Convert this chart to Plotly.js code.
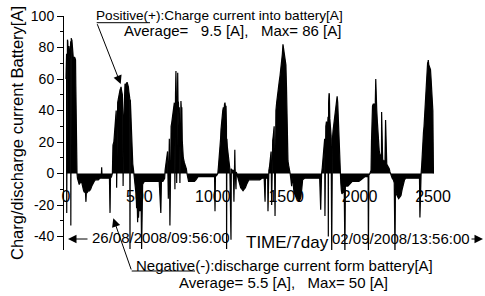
<!DOCTYPE html>
<html>
<head>
<meta charset="utf-8">
<script src="https://cdn.plot.ly/plotly-3.0.1.min.js"></script>
<style>html,body{margin:0;padding:0;background:#fff;}#chart{width:485px;height:296px;}</style>
</head>
<body>
<div id="chart"></div>
<script>
// Sample number (time axis, 7 days) and battery current [A]
const sampleIndex = [
  0,2,4,5,6,8,10,12,14,16,18,20,22,24,26,28,30,32,33,34,36,38,40,42,44,46,48,50,54,58,62,65,67,69,71,73,75,
  78,84,90,96,102,108,114,120,126,132,136,139,145,152,160,168,176,184,192,200,210,220,230,240,243,246,256,266,276,286,296,300,303,310,316,
  320,326,330,334,338,342,345,348,352,356,360,364,368,372,375,378,381,384,387,389,391,394,398,402,406,410,413,416,419,422,425,428,431,434,436,438,442,447,451,455,459,463,
  466,470,474,478,481,484,488,491,494,497,500,504,507,511,515,518,522,527,535,545,555,565,575,585,595,605,615,625,635,646,650,660,668,672,
  675,680,686,692,697,700,704,708,711,716,720,726,731,735,738,742,743,746,749,751,754,756,758,761,763,766,769,772,776,778,783,786,789,792,796,799,806,814,820,824,
  828,835,845,855,865,875,885,892,900,915,930,945,960,975,990,1005,1012,1015,1018,1028,1034,
  1038,1042,1046,1049,1053,1056,1060,1064,1068,1072,1076,1080,1083,1087,1090,1093,1094,1096,1099,1102,1106,1110,1116,1124,1126,1132,1140,1144,1146,1150,1152,1158,1160,1163,
  1167,1175,1182,1190,1198,1206,1214,1222,1230,1238,1246,1260,1275,1290,1305,1320,1335,1350,1356,1359,1368,1374,1376,1379,
  1382,1386,1390,1394,1397,1401,1404,1408,1412,1418,1424,1426,1430,1435,1440,1446,1452,1458,1463,1469,1474,1478,1481,1484,1487,1490,1494,1498,1502,1505,1508,1512,1517,1522,1527,
  1531,1537,1540,1547,1553,1560,1568,1576,1584,1592,1600,1606,1612,1625,1640,1655,1670,1685,1700,1715,1728,1735,1738,1741,
  1746,1750,1754,1758,1762,1764,1766,1770,1774,1778,1782,1785,1787,1789,1792,1794,1797,1800,1803,1806,1810,1812,1815,1819,1823,1827,1831,1835,1839,1843,1847,1851,1854,1857,1860,1863,1866,1869,
  1872,1876,1880,1885,1890,1895,1900,1903,1910,1920,1930,1940,1950,1965,1980,1995,2010,2025,2037,2050,2058,2060,2063,2070,
  2078,2081,2084,2088,2093,2098,2103,2107,2110,2113,2117,2121,2125,2129,2134,2139,2144,2149,2150,2152,2157,2162,2167,2173,2177,2180,2185,2190,2196,2202,2207,2210,
  2214,2222,2230,2236,2241,2244,2250,2258,2266,2274,2282,2290,2298,2306,2315,2330,2345,2360,2375,2390,2400,2408,2411,2414,2419,
  2423,2427,2431,2435,2439,2443,2447,2451,2455,2459,2463,2466,2468,2471,2475,2479,2483,2487,2491,2495,2499,2501,2503
];
const currentA = [
  60,72,76,-25,80,82,85,84,78,72,80,81,76,74,73,75,80,84,-33,84,86,84,85,82,80,76,74,73,73,74,73,72,55,20,8,3,0,
  -3,-6,-7,-6,-5,-6,-9,-11,-12,-11,-18,-11,-12,-11,-11,-10,-8,-6,-5,-4,-4,-4,-3,-3,4,-3,-3,-3,-3,-3,-3,-25,-3,-2,0,
  18,20,25,30,36,40,-9,43,45,47,50,52,53,54,55,53,51,50,35,-8,15,35,54,57,56,57,58,58,57,56,55,52,50,48,-48,47,38,25,12,6,3,0,
  -4,-8,-12,-14,-22,-14,-31,-15,-28,-16,-15,-24,-14,-12,-48,-10,-7,-6,-5,-5,-5,-5,-5,-5,-5,-5,-5,-5,-5,-25,-5,-5,-4,-3,
  2,5,10,14,-16,18,22,-33,26,30,32,36,40,43,45,-10,49,50,65,52,-6,45,52,64,46,45,30,42,-6,44,46,40,42,21,12,10,7,5,3,0,
  -3,-5,-5,-5,-5,-5,-4,-3,-2,-2,-2,-2,-2,-2,-2,-2,-2,-24,-2,-1,0,
  4,8,12,16,22,28,34,38,40,42,39,44,45,41,43,30,-48,22,17,14,8,5,3,-42,3,2,2,-18,2,15,3,-10,1,0,
  -2,-4,-6,-9,-10,-11,-10,-9,-7,-5,-4,-4,-4,-4,-4,-4,-3,-3,-18,-3,-3,-3,-24,-2,
  2,4,8,11,14,-20,19,21,24,30,-27,34,40,45,50,53,58,62,66,70,76,82,80,81,78,76,72,69,55,30,15,8,5,3,0,
  -3,-8,-3,-6,-12,-14,-15,-16,-17,-17,-15,-10,-4,-3,-3,-3,-3,-3,-3,-3,-3,-23,-2,0,
  4,10,14,20,22,-27,25,30,33,32,30,36,-40,45,51,50,35,30,32,24,-50,14,22,27,30,33,36,40,42,44,49,45,36,28,20,12,4,0,
  -6,-11,-13,-12,-10,-8,-50,-8,-8,-8,-7,-6,-5,-5,-5,-5,-4,-3,-2,-2,-2,-50,-1,0,
  2,20,42,43,44,44,43,45,60,42,40,33,25,18,14,12,11,10,39,10,9,8,8,8,34,7,6,5,4,3,1,0,
  -2,-3,-4,-6,-50,-10,-13,-15,-16,-15,-14,-10,-6,-4,-3,-3,-3,-3,-3,-3,-3,-3,-28,-2,0,
  5,15,22,26,30,37,45,56,62,68,70,71,72,69,68,67,66,60,52,45,40,20,0
];
const xTicks = [0, 500, 1000, 1500, 2000, 2500];
const yTicks = [-40, -20, 0, 20, 40, 60, 80, 100];
const chargeAvg = 9.5, chargeMax = 86;
const dischargeAvg = 5.5, dischargeMax = 50;
const startStamp = "26/08/2008/09:56:00";
const endStamp = "02/09/2008/13:56:00";

const FONT = "Arial, 'Liberation Sans', sans-serif";
const W = 485, H = 296;
const M = {l: 64, r: 45, t: 16, b: 46};
const PW = W - M.l - M.r, PH = H - M.t - M.b;
const yMin = -48.57, yMax = 100;
const xMin = -13.6, xMax = 2547.7;
// pixel -> paper helpers for decorations
const px = v => (v - M.l) / PW;
const py = v => (M.t + PH - v) / PH;
const nb = n => "\u00A0".repeat(n);

function label(text, x, y, size) {
  return {xref: "paper", yref: "paper", x: px(x - 3), y: py(y), xanchor: "left", yanchor: "middle",
          text: text, showarrow: false, font: {family: FONT, size: size, color: "#000"}};
}
function arrow(hx, hy, tx, ty) {
  return {xref: "paper", yref: "paper", x: px(hx), y: py(hy), axref: "pixel", ayref: "pixel",
          ax: tx - hx, ay: ty - hy, text: "", showarrow: true, arrowhead: 2, arrowsize: 1.7,
          arrowwidth: 1, arrowcolor: "#000", standoff: 0, startstandoff: 0, font: {size: 1}};
}

const trace = {
  x: sampleIndex, y: currentA, type: "scatter", mode: "lines",
  line: {color: "#000", width: 1.2}, fill: "tozeroy", fillcolor: "#000", hoverinfo: "skip"
};

const layout = {
  width: W, height: H, margin: M, showlegend: false,
  paper_bgcolor: "#fff", plot_bgcolor: "#fff",
  font: {family: FONT, color: "#000"},
  xaxis: {
    range: [xMin, xMax], tickvals: xTicks, ticktext: xTicks.map(String),
    anchor: "free", position: (0 - yMin) / (yMax - yMin),
    showline: false, zeroline: false, showgrid: false, ticks: "",
    ticklabelstandoff: 11, tickfont: {family: FONT, size: 16, color: "#000"}
  },
  yaxis: {
    range: [yMin, yMax], tickvals: yTicks, ticktext: yTicks.map(String),
    showline: true, linecolor: "#000", linewidth: 1, zeroline: false, showgrid: false,
    ticks: "outside", ticklen: 6, tickwidth: 1, tickcolor: "#000",
    minor: {tickvals: [-30, -10, 10, 30, 50, 70, 90], ticks: "outside", ticklen: 3, tickcolor: "#000", tickwidth: 1},
    tickfont: {family: FONT, size: 14, color: "#000"},
    title: {text: "Charg/discharge current Battery[A]" + nb(2), font: {family: FONT, size: 16.5, color: "#000"}, standoff: 3}
  },
  shapes: [
    {type: "line", xref: "paper", yref: "paper", x0: px(96.7), y0: py(22.7), x1: px(150), y1: py(22.7), line: {color: "#000", width: 1}},
    {type: "line", xref: "paper", yref: "paper", x0: px(131.7), y0: py(271), x1: px(195), y1: py(271), line: {color: "#000", width: 1}}
  ],
  annotations: [
    label("Positive(+):Charge current into battery[A]", 97, 15, 13.6),
    label("Average=" + nb(3) + chargeAvg + " [A]," + nb(3) + "Max= " + chargeMax + " [A]", 125, 30.5, 15),
    label("Negative(-):discharge current form battery[A]", 137, 265.5, 15),
    label("Average= " + dischargeAvg + " [A]," + nb(3) + "Max= " + dischargeMax + " [A]", 180, 282.5, 15),
    label("TIME/7day", 247, 242.5, 17),
    label(startStamp, 92.7, 237, 15),
    label(endStamp, 333.3, 238.7, 15),
    arrow(120.7, 84, 96.7, 22.7),
    arrow(113.3, 218.3, 131.7, 271),
    arrow(68, 239, 89, 239),
    arrow(483, 239, 470, 239)
  ]
};

Plotly.newPlot("chart", [trace], layout, {staticPlot: true, displayModeBar: false});
</script>
</body>
</html>
